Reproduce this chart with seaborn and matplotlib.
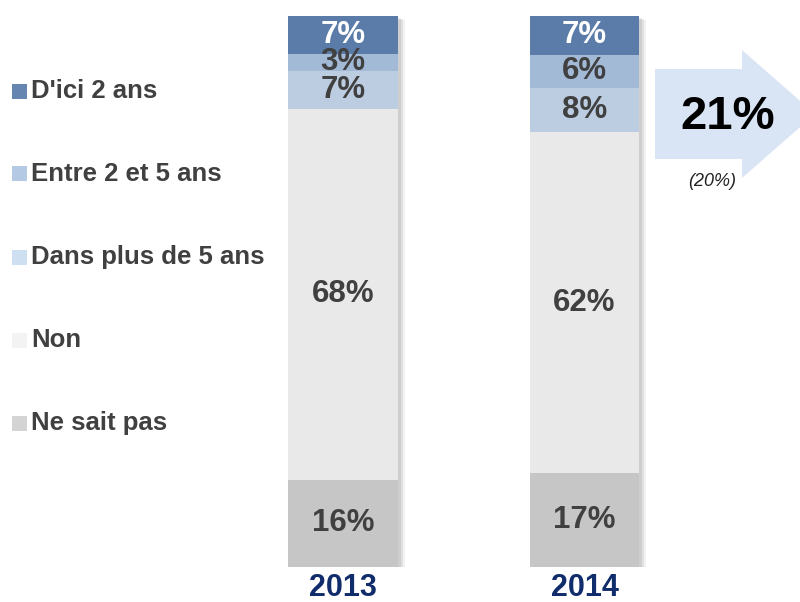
import matplotlib
matplotlib.use("Agg")
import matplotlib.pyplot as plt
import matplotlib.patheffects as pe
from matplotlib.patches import Polygon, Rectangle
import seaborn as sns
import numpy as np
import pandas as pd

sns.set_theme(style="white")
plt.rcParams['font.family'] = ['Liberation Sans', 'DejaVu Sans']

years = ["2013", "2014"]
categories = ["Ne sait pas", "Non", "Dans plus de 5 ans", "Entre 2 et 5 ans", "D'ici 2 ans"]
ne_sait_pas = [16, 17]
non = [68, 62]
plus_5 = [7, 8]
entre_2_5 = [3, 6]
dici_2 = [7, 7]
series = [ne_sait_pas, non, plus_5, entre_2_5, dici_2]

bar_colors = ["#c6c6c6", "#e9e9e9", "#bccde2", "#a3bad7", "#5b7ca8"]
legend_colors = ["#d4d4d4", "#f3f3f3", "#cfdff2", "#b4c9e4", "#6685b0"]
label_colors = ["#404040", "#404040", "#404040", "#404040", "#ffffff"]

arrow_value = "21%"
arrow_prev = "(20%)"

W, H = 800, 602
fig = plt.figure(figsize=(8, 6.02), dpi=100)
fig.patch.set_facecolor("white")

# axes placement: bars from y px 567 (bottom) to 16 (top), 100% stacked
ax = fig.add_axes([222.25 / W, (H - 567) / H, 483 / W, 551 / H])

totals = np.sum(np.array(series), axis=0).astype(float)

# background full bar carrying the soft shadow
df_full = pd.DataFrame({"year": years, "val": [1.0] * len(years)})
sns.barplot(data=df_full, x="year", y="val", color="#e9e9e9", width=0.455,
            ax=ax, saturation=1, linewidth=0, errorbar=None)
for p in ax.patches:
    p.set_path_effects([
        pe.SimplePatchShadow(offset=(5, -3), shadow_rgbFace="#000000", alpha=0.05),
        pe.SimplePatchShadow(offset=(3.5, -2.2), shadow_rgbFace="#000000", alpha=0.07),
        pe.SimplePatchShadow(offset=(2, -1.2), shadow_rgbFace="#000000", alpha=0.08),
        pe.Normal()])

bottom = np.zeros(len(years))
for vals, col, lcol in zip(series, bar_colors, label_colors):
    frac = np.array(vals) / totals
    df = pd.DataFrame({"year": years, "val": frac})
    sns.barplot(data=df, x="year", y="val", color=col, width=0.455,
                bottom=bottom, ax=ax, saturation=1, linewidth=0,
                errorbar=None)
    for i, v in enumerate(vals):
        ax.text(i, bottom[i] + frac[i] / 2, f"{v}%", ha="center", va="center",
                fontsize=22.5, fontweight="bold", color=lcol, zorder=5)
    bottom = bottom + frac

ax.set_xlim(-0.5, 1.5)
ax.set_ylim(0, 1)
ax.axis("off")

# year labels
for i, y in enumerate(years):
    ax.annotate(y, xy=(i, 0), xycoords="data", xytext=(0, -15), textcoords="offset points",
                ha="center", va="center", fontsize=22, fontweight="bold", color="#102c6b")

# legend (top to bottom)
leg_y = [91, 174, 257, 340, 423]
for cat, col, yy in zip(categories[::-1], legend_colors[::-1], leg_y):
    fig.patches.append(Rectangle((12 / W, (H - yy - 7.5) / H), 15 / W, 15 / H,
                                 transform=fig.transFigure, facecolor=col, edgecolor="none"))
    fig.text(31 / W, (H - yy) / H, cat, ha="left", va="center", fontsize=18.5,
             fontweight="bold", color="#404040")

# arrow
pts = [(655, 69), (742, 69), (742, 50), (815, 114), (742, 178), (742, 159), (655, 159)]
pts = [(x / W, (H - y) / H) for x, y in pts]
fig.patches.append(Polygon(pts, closed=True, transform=fig.transFigure,
                           facecolor="#d9e5f5", edgecolor="none", zorder=0))
fig.text(728 / W, (H - 117) / H, arrow_value, ha="center", va="center",
         fontsize=34, fontweight="bold", color="#000000")
fig.text(712 / W, (H - 182) / H, arrow_prev, ha="center", va="center",
         fontsize=13, style="italic", color="#222222")

fig.savefig("out.png", dpi=100, facecolor="white")
